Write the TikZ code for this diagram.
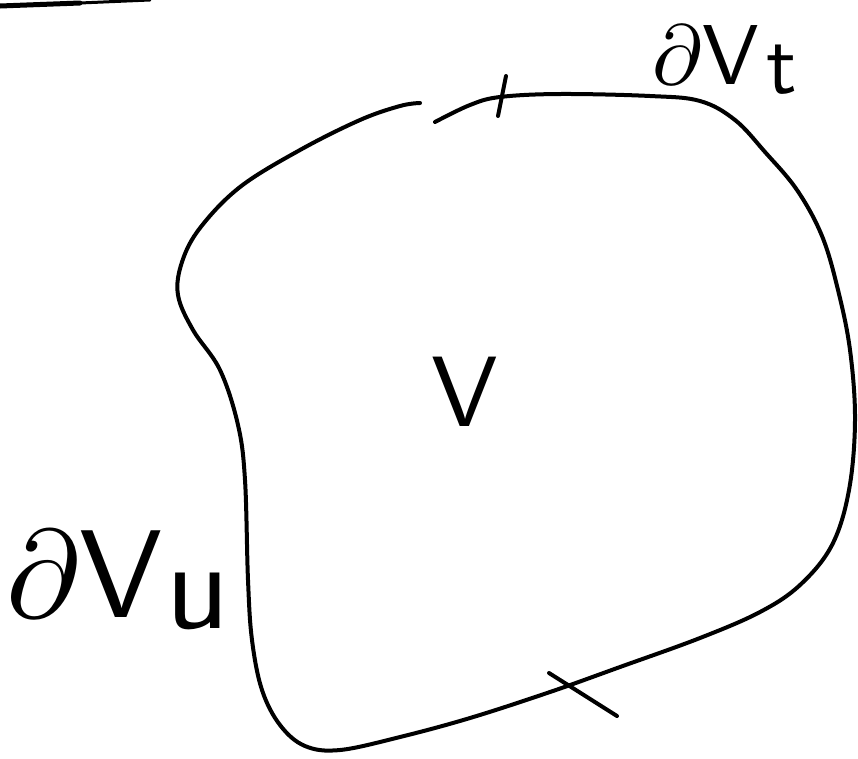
\documentclass[tikz,border=0pt]{standalone}
\begin{document}
\begin{tikzpicture}[x=1pt,y=-1pt,line cap=round,line join=round]
\tikzset{stroke/.style={line width=4pt},
  lbl/.style={inner sep=0pt,font=\sffamily}}
\useasboundingbox (0,0) rectangle (858,758);
% partial stroke at top-left edge
\draw[line width=5pt] (0,6) -- (80,3);
\draw[line width=3pt] (80,3) -- (150,0);
% boundary of V (one stroke with a small gap at top)
\draw[stroke] plot[smooth,tension=0.6] coordinates {(435,122) (470,105) (500,97) (560,94) (650,96) (700,101) (735,120) (765,152) (797,190) (822,236) (838,290) (850,350) (855,420) (849,490) (832,545) (800,585) (760,612) (700,638) (620,667) (550,692) (470,718) (400,737) (340,750) (305,746) (280,725) (262,690) (252,640) (248,580) (245,480) (238,425) (220,370) (193,330) (178,295) (182,262) (200,228) (240,187) (300,150) (360,120) (400,106) (420,103)};
% tick marks separating boundary parts
\coordinate (t1a) at (506,76);
\coordinate (t1b) at (498,116);
\coordinate (t2a) at (549,673);
\coordinate (t2b) at (617,716);
\draw[stroke] (t1a) -- (t1b);
\draw[stroke] (t2a) -- (t2b);
% labels
\node[lbl,scale=10] (V) at (465,392) {V};
\node[lbl,scale=8.5] (dVt) at (725,60) {$\partial$V\kern0.08em\raisebox{-0.25ex}{t}};
\node[lbl,scale=12.5] (dVu) at (118,580) {$\partial$V\kern0.02em\raisebox{-0.2ex}{u}};
\end{tikzpicture}
\end{document}
